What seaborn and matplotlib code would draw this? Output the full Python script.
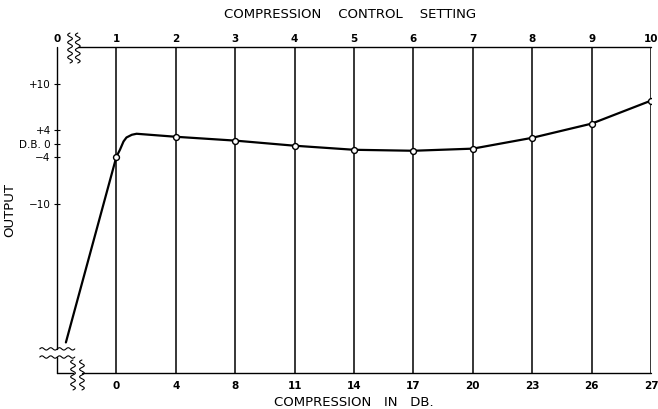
# output vs compression: old-style chart with two x scales and broken axes

import seaborn as sns
import pandas as pd
import matplotlib.pyplot as plt
import numpy as np

sns.set_style('white')
plt.rcParams['font.family'] = ['DejaVu Sans']
plt.rcParams['text.color'] = 'k'
plt.rcParams['axes.labelcolor'] = 'k'
plt.rcParams['xtick.color'] = 'k'
plt.rcParams['ytick.color'] = 'k'

# control setting (top scale) and matching compression in db (bottom scale)
setting = [1, 2, 3, 4, 5, 6, 7, 8, 9, 10]
compression_db = [0, 4, 8, 11, 14, 17, 20, 23, 26, 27]
top_labels = ['0', '1', '2', '3', '4', '5', '6', '7', '8', '9', '10']

# measured points (circles)
output_db = [-4.0, 2.0, 0.9, -0.6, -1.85, -2.15, -1.5, 1.7, 4.8, 7.8]
# extra points (start and knee)
extra_x = [0.15, 1.06, 1.12, 1.17, 1.26, 1.34]
extra_y = [-27.7, -1.85, 0.66, 1.8, 2.57, 2.86]

ytick_vals = [10, 4, 0, -4, -10]
ytick_labels = ['+10', '+4', 'D.B. 0', '\u22124', '\u221210']

# the printed output scale is not uniform: anchor points db -> drawing units
scale_db = [-40, -10, -4, 0, 4, 10, 30]
scale_px = [-295, -60, -13, 0, 14, 60, 213]

def fwd(v):
    return np.interp(v, scale_db, scale_px)

def inv(p):
    return np.interp(p, scale_px, scale_db)

curve = pd.DataFrame({'x': setting + extra_x, 'y': output_db + extra_y}).sort_values('x')
pts = pd.DataFrame({'x': setting, 'y': output_db})

fig = plt.figure(figsize=(6.58, 4.09), dpi=100)
ax = fig.add_axes([0.0866, 0.088, 0.9028, 0.797])
ax.set_yscale('function', functions=(fwd, inv))

sns.lineplot(data=curve, x='x', y='y', sort=False, color='k', linewidth=1.6, ax=ax, zorder=3)
sns.scatterplot(data=pts, x='x', y='y', s=18, color='white', edgecolor='k', linewidth=1.0, ax=ax, zorder=4)

ax.set_xlim(0, 10)
ax.set_ylim(-31.6, 14.8)

ax.set_xticks(setting)
ax.set_xticklabels([str(c) for c in compression_db], fontsize=7.5, fontweight='bold')
ax.set_yticks(ytick_vals)
ax.set_yticklabels(ytick_labels, fontsize=7.5)
ax.yaxis.set_minor_locator(plt.NullLocator())
ax.tick_params(axis='x', length=0, pad=6)
ax.tick_params(axis='y', left=True, direction='inout', length=5, width=0.8, pad=2)

ax.grid(axis='x', color='k', linewidth=1.1)
ax.grid(axis='y', visible=False)

top = ax.secondary_xaxis('top')
top.set_xticks([0] + setting)
top.set_xticklabels(top_labels, fontsize=7.5, fontweight='bold')
top.tick_params(length=0, pad=2)
top.spines['top'].set_visible(False)

for s in ['left', 'right', 'top', 'bottom']:
    ax.spines[s].set_visible(False)

# axis lines with breaks
tr = ax.transAxes
kw = dict(color='k', linewidth=1.0, transform=tr, clip_on=False)
ax.plot([0, 0], [0.074, 1.0], **kw)
ax.plot([0, 0], [0.0, 0.049], **kw)
ax.plot([0.035, 1.0], [1.0, 1.0], **kw)
ax.plot([0.0, 0.027], [0.0, 0.0], **kw)
ax.plot([0.042, 1.0], [0.0, 0.0], **kw)

# wavy break marks
t = np.linspace(0, 1, 60)
wave = 0.004 * np.sin(t * 2 * np.pi * 4)
for xb in [0.022, 0.035]:
    ax.plot(xb + wave, 0.951 + t * 0.092, color='k', linewidth=0.8, transform=tr, clip_on=False)
for xb in [0.027, 0.042]:
    ax.plot(xb + wave, -0.052 + t * 0.092, color='k', linewidth=0.8, transform=tr, clip_on=False)
for yb in [0.074, 0.049]:
    ax.plot(-0.029 + t * 0.059, yb + wave * 0.9, color='k', linewidth=0.8, transform=tr, clip_on=False)

ax.set_xlabel('COMPRESSION   IN   DB.', fontsize=9.5, labelpad=3)
ax.set_ylabel('OUTPUT', fontsize=9.5, labelpad=2)
fig.text(0.532, 0.965, 'COMPRESSION    CONTROL    SETTING', fontsize=9.5, ha='center', va='center')

fig.savefig('out.png', dpi=100)
